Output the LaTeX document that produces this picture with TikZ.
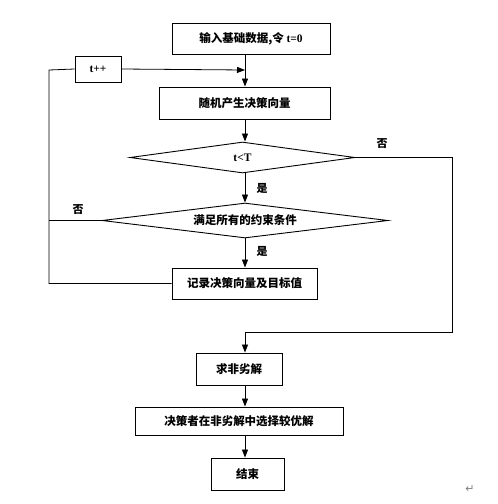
\documentclass[tikz,border=0pt]{standalone}
\usepackage{fontspec}
\setmainfont{Liberation Serif}
\newfontfamily\cjk{Noto Sans CJK SC}
\newfontfamily\symfont{DejaVu Sans}
\usetikzlibrary{shapes.geometric,arrows.meta,calc}
\begin{document}
\begin{tikzpicture}[x=1pt,y=-1pt,
  every node/.style={font=\cjk\bfseries\fontsize{11.5}{13}\selectfont},
  box/.style={draw,line width=0.9pt,inner sep=0pt,minimum width=#1},
  dia/.style={draw,line width=0.9pt,shape=diamond,inner sep=0pt,minimum width=#1},
  lbl/.style={font=\cjk\bfseries\fontsize{11}{13}\selectfont},
  line/.style={line width=0.8pt},
  arr/.style={line width=0.8pt,-{Triangle[length=8pt,width=6pt]}}]
\useasboundingbox (0,0) rectangle (498,504);
\node[box=158,minimum height=31] (b1) at (251,38.5) {输入基础数据,令 {\rmfamily\bfseries t=0}};
\node[box=46,minimum height=26] (tpp) at (98,69) {\rmfamily\bfseries t++};
\node[box=171,minimum height=32] (b2) at (244.5,103) {随机产生决策向量};
\node[dia=225,minimum height=31,aspect=7.26] (d1) at (242.5,157.5) {\rmfamily\bfseries t<T};
\node[dia=286,minimum height=35,aspect=8.17] (d2) at (245,220.5) {满足所有的约束条件};
\node[box=145,minimum height=31] (b3) at (244.5,283.5) {记录决策向量及目标值};
\node[box=86,minimum height=32] (b4) at (239,369) {求非劣解};
\node[box=208,minimum height=28] (b5) at (239,421) {决策者在非劣解中选择较优解};
\node[box=73,minimum height=32] (b6) at (247.5,474) {结束};
\coordinate (c) at (245,0);
\coordinate (j1) at (245,70);
\coordinate (L) at (49,70);
\coordinate (R) at (452,332);
\draw[arr] (b1.south -| c) -- (b2.north -| c);
\draw[arr] (tpp.east) -- (j1);
\draw[line] (b3.west) -| (L) -- (tpp.west);
\draw[line] (d2.west) -- (d2.west -| L);
\draw[arr] (b2.south -| c) -- (d1.north -| c);
\draw[arr] (d1.south -| c) -- (d2.north -| c);
\draw[arr] (d2.south -| c) -- (b3.north -| c);
\draw[arr] (d1.east) -| (R) -| (b4.north -| c);
\draw[arr] (b4.south -| c) -- (b5.north -| c);
\draw[arr] (b5.south -| c) -- (b6.north -| c);
\node[lbl] (n1) at (382,144) {否};
\node[lbl] (y1) at (262,188) {是};
\node[lbl] (n2) at (78,210) {否};
\node[lbl] (y2) at (262,251) {是};
\node[font=\symfont\fontsize{11}{13}\selectfont,text=gray] (ret) at (470,489) {↵};
\end{tikzpicture}
\end{document}
